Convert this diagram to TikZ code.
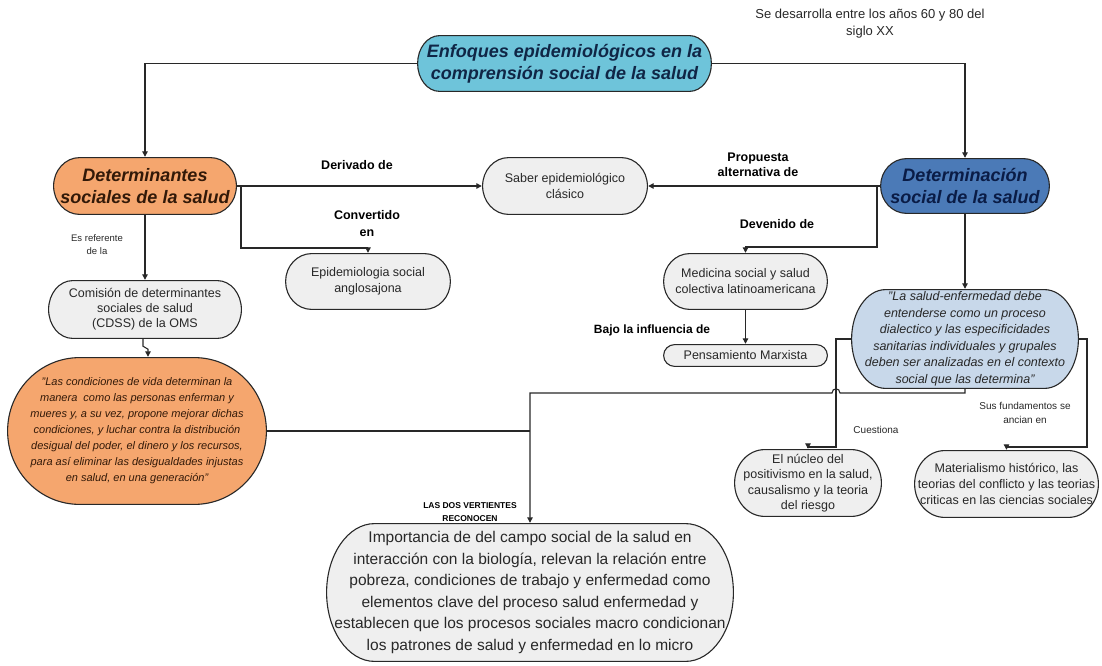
\documentclass[tikz,border=0pt]{standalone}
\usepackage{fontspec}
\setmainfont{Liberation Sans}
\usetikzlibrary{arrows.meta,calc}
\definecolor{titlec}{RGB}{110,196,218}
\definecolor{titletext}{RGB}{16,38,70}
\definecolor{orangec}{RGB}{245,166,110}
\definecolor{orangetext}{RGB}{50,25,8}
\definecolor{detnc}{RGB}{75,122,183}
\definecolor{detntext}{RGB}{10,28,70}
\definecolor{bluec}{RGB}{200,216,234}
\definecolor{grayc}{RGB}{239,239,239}
\definecolor{linec}{RGB}{40,40,40}
\definecolor{textc}{RGB}{40,40,40}
\newcommand\fsz[2]{\fontsize{#1}{#2}\selectfont}
\tikzset{
  cap/.style 2 args={draw=none, inner sep=0pt, align=center, text=textc,
    path picture={
      \draw[fill=#1, draw=linec, line width=1.1pt]
        let \p1=(path picture bounding box.south west),
            \p2=(path picture bounding box.north east),
            \n1={(\y2-\y1)/2-0.6pt},
            \n2={#2},
            \n3={(\y1+\y2)/2},
            \n4={0.5523*\n1},
            \n5={0.5523*\n2}
        in (\x1+0.6pt+\n2,\y2-0.6pt) -- (\x2-0.6pt-\n2,\y2-0.6pt)
        .. controls (\x2-0.6pt-\n2+\n5,\y2-0.6pt) and (\x2-0.6pt,\n3+\n4) .. (\x2-0.6pt,\n3)
        .. controls (\x2-0.6pt,\n3-\n4) and (\x2-0.6pt-\n2+\n5,\y1+0.6pt) .. (\x2-0.6pt-\n2,\y1+0.6pt)
        -- (\x1+0.6pt+\n2,\y1+0.6pt)
        .. controls (\x1+0.6pt+\n2-\n5,\y1+0.6pt) and (\x1+0.6pt,\n3-\n4) .. (\x1+0.6pt,\n3)
        .. controls (\x1+0.6pt,\n3+\n4) and (\x1+0.6pt+\n2-\n5,\y2-0.6pt) .. cycle;
    }},
  box/.style n args={4}{cap={#1}{#2}, minimum width=#3, minimum height=#4},
  lbl/.style={inner sep=0pt, align=center, text=black},
  line/.style={draw=linec, line width=1.1pt},
  arr/.style={line, -{Triangle[length=5.5pt,width=5.5pt]}},
}
\begin{document}
\begin{tikzpicture}[x=1pt,y=-1pt]
\fill[white] (0,0) rectangle (1102,666);
\useasboundingbox (0,0) rectangle (1102,666);

% main nodes
\node[box={titlec}{22pt}{295pt}{57pt}, text=titletext, font={\fsz{18}{22}\bfseries\itshape}] (title) at (564.5,63.5) {Enfoques epidemiológicos en la\\comprensión social de la salud};
\node[box={orangec}{26pt}{184pt}{58pt}, text=orangetext, font={\fsz{18}{22}\bfseries\itshape}] (det) at (145,186) {Determinantes\\sociales de la salud};
\node[box={detnc}{26pt}{170pt}{56pt}, text=detntext, font={\fsz{18}{22}\bfseries\itshape}] (detn) at (965,186) {Determinación\\social de la salud};
\node[box={grayc}{26pt}{166pt}{58pt}, font={\fsz{12.5}{16}}] (saber) at (565,186) {Saber epidemiológico\\clásico};
\node[box={grayc}{26pt}{166pt}{57pt}, font={\fsz{12.5}{16}}] (epi) at (368,281.5) {Epidemiologia social\\anglosajona};
\node[box={grayc}{26pt}{165pt}{57pt}, font={\fsz{12.5}{16}}] (med) at (745.5,281.5) {Medicina social y salud\\colectiva latinoamericana};
\node[box={grayc}{11pt}{165pt}{23pt}, font={\fsz{12.5}{16}}] (pens) at (745.5,355.5) {Pensamiento Marxista};
\node[box={grayc}{24pt}{194pt}{59pt}, font={\fsz{12.5}{15}}] (com) at (145,309.5) {Comisión de determinantes\\sociales de salud\\(CDSS) de la OMS};
\node[box={orangec}{72pt}{260pt}{148pt}, text=orangetext, font={\fsz{11}{16}\itshape}] (oq) at (137,431) {"Las condiciones de vida determinan la\\manera \ como las personas enferman y\\mueres y, a su vez, propone mejorar dichas\\condiciones, y luchar contra la distribución\\desigual del poder, el dinero y los recursos,\\para así eliminar las desigualdades injustas\\en salud, en una generación"};
\node[box={bluec}{34pt}{228pt}{100pt}, font={\fsz{12.5}{16.5}\itshape}] (bq) at (965,339) {"La salud-enfermedad debe\\entenderse como un proceso\\dialectico y las especificidades\\sanitarias individuales y grupales\\deben ser analizadas en el contexto\\social que las determina"};
\node[box={grayc}{48pt}{408pt}{139pt}, font={\fsz{15.5}{21.5}}] (bot) at (530,592.5) {Importancia de del campo social de la salud en\\interacción con la biología, relevan la relación entre\\pobreza, condiciones de trabajo y enfermedad como\\elementos clave del proceso salud enfermedad y\\establecen que los procesos sociales macro condicionan\\los patrones de salud y enfermedad en lo micro};
\node[box={grayc}{30pt}{148pt}{68pt}, font={\fsz{12.5}{15.5}}] (nuc) at (808,483) {El núcleo del\\positivismo en la salud,\\causalismo y la teoria\\del riesgo};
\node[box={grayc}{30pt}{185pt}{68pt}, font={\fsz{12.5}{16}}] (mat) at (1006.5,484) {Materialismo histórico, las\\teorias del conflicto y las teorias\\criticas en las ciencias sociales};

% labels
\node[lbl, font={\fsz{13}{17}}, text=textc] (lse) at (870,23.5) {Se desarrolla entre los años 60 y 80 del\\siglo XX};
\node[lbl, font={\fsz{12.5}{17}\bfseries}] (lderiv) at (357,165) {Derivado de};
\node[lbl, font={\fsz{12.5}{17}\bfseries}] (lconv) at (367,223.5) {Convertido\\en};
\node[lbl, font={\fsz{12.5}{15}\bfseries}] (lprop) at (758,164.5) {Propuesta\\alternativa de};
\node[lbl, font={\fsz{12.5}{17}\bfseries}] (ldev) at (777,224) {Devenido de};
\node[lbl, font={\fsz{12}{17}\bfseries}] (lbajo) at (652,330) {Bajo la influencia de};
\node[lbl, font={\fsz{9.5}{13}}, text=textc] (lref) at (97,244.5) {Es referente\\de la};
\node[lbl, font={\fsz{10}{14}}, text=textc] (lcues) at (876,430) {Cuestiona};
\node[lbl, font={\fsz{10}{14}}, text=textc] (lsus) at (1025,413) {Sus fundamentos se\\ancian en};
\node[lbl, font={\fsz{8.5}{13}\bfseries}] (llas) at (470,512) {LAS DOS VERTIENTES\\RECONOCEN};

% junction points
\coordinate (j1) at (241,186);
\coordinate (j2) at (241,248);
\coordinate (j3) at (877,186);
\coordinate (j4) at (877,247);
\coordinate (j5) at (530,431);
\coordinate (j6) at (965,393);
\coordinate (j7) at (530,393);
\coordinate (j8) at (836,339);
\coordinate (j9) at (836,447);
\coordinate (j10) at (1087,339);
\coordinate (j11) at (1087,447);

% connectors
\draw[arr] (title.west) -| (det.north);
\draw[arr] (title.east) -| (detn.north);
\draw[arr] (det.east) -- (saber.west);
\draw[arr] (detn.west) -- (saber.east);
\draw[arr] (j1) -- (j2) -| (epi.north);
\draw[arr] (j3) -- (j4) -| (med.north);
\draw[arr] (med.south) -- (pens.north);
\draw[arr] (det.south) -- (com.north);
\draw[arr] (detn.south) -- (bq.north);
\draw[arr] ([xshift=-2pt]com.south) -- ++(0,7) -- ++(5,3) -- ([xshift=11pt]oq.north);
\draw[line] (oq.east) -- (j5);
\draw[arr] (bq.south) -- (j6) -- ++(-125,0) .. controls +(0,-5.5) and +(0,-5.5) .. ++(-8,0) -- (j7) -- (bot.north);
\draw[arr] (bq.west) -- (j8) -- (j9) -| (nuc.north);
\draw[arr] (bq.east) -- (j10) -- (j11) -| (mat.north);
\end{tikzpicture}
\end{document}
